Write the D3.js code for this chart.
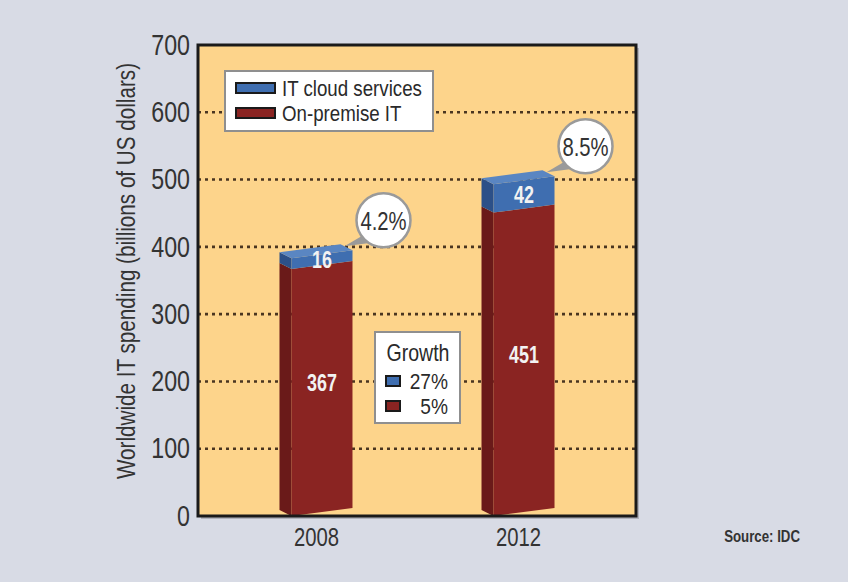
<!DOCTYPE html>
<html>
<head>
<meta charset="utf-8">
<script src="https://cdn.jsdelivr.net/npm/d3@7"></script>
<style>
  html, body { margin: 0; padding: 0; background: #d8dbe5; }
  svg { display: block; }
  text { font-family: "Liberation Sans", Arial, sans-serif; }
</style>
</head>
<body>
<svg id="chart" width="848" height="582"></svg>
<script>
// Worldwide IT spending, billions of US dollars
const years = ["2008", "2012"];
const onPremise = [367, 451];
const cloud = [16, 42];
const cloudShare = ["4.2%", "8.5%"];
const yTicks = [0, 100, 200, 300, 400, 500, 600, 700];
const growthLabels = ["27%", "5%"];
const seriesNames = ["IT cloud services", "On-premise IT"];

const plot = { left: 198, right: 636, top: 45, bottom: 516 };
const SX = 0.78; // horizontal squeeze giving a condensed face

const colors = {
  cloud: "#3f6eb0", cloudSide: "#2c5088", cloudTop: "#5a86c2",
  prem: "#8a2422", premSide: "#6a1a19",
  plotBg: "#fdd48b", grid: "#4a3520", text: "#333333"
};

const svg = d3.select("#chart");

// move x/y into a transform so the glyphs can be narrowed around their anchor
function condense(sel, s = SX) {
  sel.each(function () {
    const t = d3.select(this);
    const x = +t.attr("x") || 0, y = +t.attr("y") || 0;
    const prev = t.attr("transform") || "";
    t.attr("x", null).attr("y", null)
      .attr("transform", `${prev} translate(${x},${y}) scale(${s},1)`);
  });
}

const y = d3.scaleLinear().domain([0, 700]).range([plot.bottom, plot.top]);
const x = d3.scalePoint().domain(years).range([plot.left, plot.right]).padding(0.584);

// plot background with soft shadow on the frame
svg.append("rect")
  .attr("x", plot.left + 3).attr("y", plot.top + 3)
  .attr("width", plot.right - plot.left).attr("height", plot.bottom - plot.top)
  .attr("fill", "#8a8c96").attr("opacity", 0.5);
svg.append("rect")
  .attr("x", plot.left).attr("y", plot.top)
  .attr("width", plot.right - plot.left).attr("height", plot.bottom - plot.top)
  .attr("fill", colors.plotBg);

// dotted gridlines
svg.append("g").selectAll("line")
  .data(yTicks.filter(d => d > 0 && d < 700))
  .join("line")
  .attr("x1", plot.left).attr("x2", plot.right)
  .attr("y1", d => y(d)).attr("y2", d => y(d))
  .attr("stroke", colors.grid).attr("stroke-width", 2.6)
  .attr("stroke-dasharray", "3,4");

// y axis labels
const yAxis = d3.axisLeft(y).tickValues(yTicks).tickSize(0).tickPadding(8);
const gy = svg.append("g").attr("transform", `translate(${plot.left},0)`).call(yAxis);
gy.select(".domain").remove();
gy.selectAll("text")
  .attr("font-size", 29).attr("fill", colors.text)
  .style("font-family", "'Liberation Sans', Arial, sans-serif");
condense(gy.selectAll("text"), 0.8);

// x axis labels
const xAxis = d3.axisBottom(x).tickSize(0).tickPadding(12);
const gx = svg.append("g").attr("transform", `translate(0,${plot.bottom})`).call(xAxis);
gx.select(".domain").remove();
gx.selectAll("text")
  .attr("font-size", 26).attr("fill", colors.text)
  .style("font-family", "'Liberation Sans', Arial, sans-serif");
condense(gx.selectAll("text"));

// y axis title
const title = svg.append("text")
  .attr("transform", "translate(135,271) rotate(-90)")
  .attr("text-anchor", "middle")
  .attr("font-size", 26.5).attr("fill", colors.text)
  .text("Worldwide IT spending (billions of US dollars)");
condense(title);

// bars drawn with a slight perspective: side face on the left, slanted front
const side = 12, front = 61, slant = 8, sideRise = 6;
const bars = svg.append("g");

function quad(pts) { return "M" + pts.map(p => p.join(",")).join("L") + "Z"; }

years.forEach((yr, i) => {
  const cx = x(yr);
  const x0 = cx - (side + front) / 2 + side;   // left edge of front face
  const x1 = x0 + front;
  const segs = [
    { lo: 0, hi: onPremise[i], fill: colors.prem, sideFill: colors.premSide },
    { lo: onPremise[i], hi: onPremise[i] + cloud[i], fill: colors.cloud, sideFill: colors.cloudSide }
  ];
  segs.forEach(s => {
    const yb = y(s.lo), yt = y(s.hi);
    bars.append("path")
      .attr("d", quad([[x0 - side, yt - sideRise], [x0, yt], [x0, yb], [x0 - side, yb - sideRise]]))
      .attr("fill", s.sideFill);
    bars.append("path")
      .attr("d", quad([[x0, yt], [x1, yt - slant], [x1, yb - slant], [x0, yb]]))
      .attr("fill", s.fill);
  });
  const top = y(onPremise[i] + cloud[i]);
  bars.append("path")
    .attr("d", quad([[x0 - side, top - sideRise], [x0, top], [x1, top - slant], [x1 - side, top - slant - sideRise]]))
    .attr("fill", colors.cloudTop);

  // value labels
  const mid = (x0 + x1) / 2;
  const lblCloud = bars.append("text")
    .attr("x", mid).attr("y", (y(onPremise[i]) + y(onPremise[i] + cloud[i])) / 2 - 4)
    .attr("dy", "0.36em").attr("text-anchor", "middle")
    .attr("font-size", 23).attr("font-weight", "bold").attr("fill", "#f2f2f2")
    .text(cloud[i]);
  const lblPrem = bars.append("text")
    .attr("x", mid).attr("y", y(onPremise[i] / 2) - 10)
    .attr("dy", "0.36em").attr("text-anchor", "middle")
    .attr("font-size", 23).attr("font-weight", "bold").attr("fill", "#f2f2f2")
    .text(onPremise[i]);
  condense(lblCloud); condense(lblPrem);

  // share callout bubble
  const tipX = x1 - 8, tipY = top - slant - 4;
  const bx = x1 + 31, by = top - slant - 30, r = 27;
  svg.append("path")
    .attr("d", `M${tipX},${tipY}L${bx - 17},${by + 13}L${bx - 8},${by + 22}Z`)
    .attr("fill", "#9a9a9a");
  svg.append("circle")
    .attr("cx", bx).attr("cy", by).attr("r", r)
    .attr("fill", "#ffffff").attr("stroke", "#9a9a9a").attr("stroke-width", 2.5);
  const share = svg.append("text")
    .attr("x", bx).attr("y", by).attr("dy", "0.36em").attr("text-anchor", "middle")
    .attr("font-size", 26).attr("fill", "#333")
    .text(cloudShare[i]);
  condense(share);
});

// plot frame
svg.append("rect")
  .attr("x", plot.left).attr("y", plot.top)
  .attr("width", plot.right - plot.left).attr("height", plot.bottom - plot.top)
  .attr("fill", "none").attr("stroke", "#1a1a1a").attr("stroke-width", 3);

// series legend
const lg = svg.append("g").attr("transform", "translate(225,71)");
lg.append("rect").attr("width", 208).attr("height", 60)
  .attr("fill", "#fff").attr("stroke", "#8f8f8f").attr("stroke-width", 2);
[colors.cloud, colors.prem].forEach((c, i) => {
  lg.append("rect").attr("x", 11).attr("y", 12 + i * 25).attr("width", 39).attr("height", 10)
    .attr("fill", c).attr("stroke", "#1a1a1a").attr("stroke-width", 2);
  const t = lg.append("text").attr("x", 57).attr("y", 17 + i * 25).attr("dy", "0.36em")
    .attr("font-size", 22).attr("fill", "#2a2a2a").text(seriesNames[i]);
  condense(t, 0.85);
});

// growth legend
const gg = svg.append("g").attr("transform", "translate(375,332)");
gg.append("rect").attr("width", 85).attr("height", 91)
  .attr("fill", "#fff").attr("stroke", "#8f8f8f").attr("stroke-width", 2);
condense(gg.append("text").attr("x", 43).attr("y", 21).attr("dy", "0.36em").attr("text-anchor", "middle")
  .attr("font-size", 23).attr("fill", "#2a2a2a").text("Growth"), 0.85);
[colors.cloud, colors.prem].forEach((c, i) => {
  gg.append("rect").attr("x", 11).attr("y", 44 + i * 25).attr("width", 14).attr("height", 10)
    .attr("fill", c).attr("stroke", "#1a1a1a").attr("stroke-width", 2);
  condense(gg.append("text").attr("x", 73).attr("y", 49 + i * 25).attr("dy", "0.36em").attr("text-anchor", "end")
    .attr("font-size", 22).attr("fill", "#2a2a2a").text(growthLabels[i]), 0.87);
});

// source note
condense(svg.append("text").attr("x", 800).attr("y", 542).attr("text-anchor", "end")
  .attr("font-size", 17).attr("font-weight", "bold").attr("fill", "#333")
  .text("Source: IDC"));
</script>
</body>
</html>
